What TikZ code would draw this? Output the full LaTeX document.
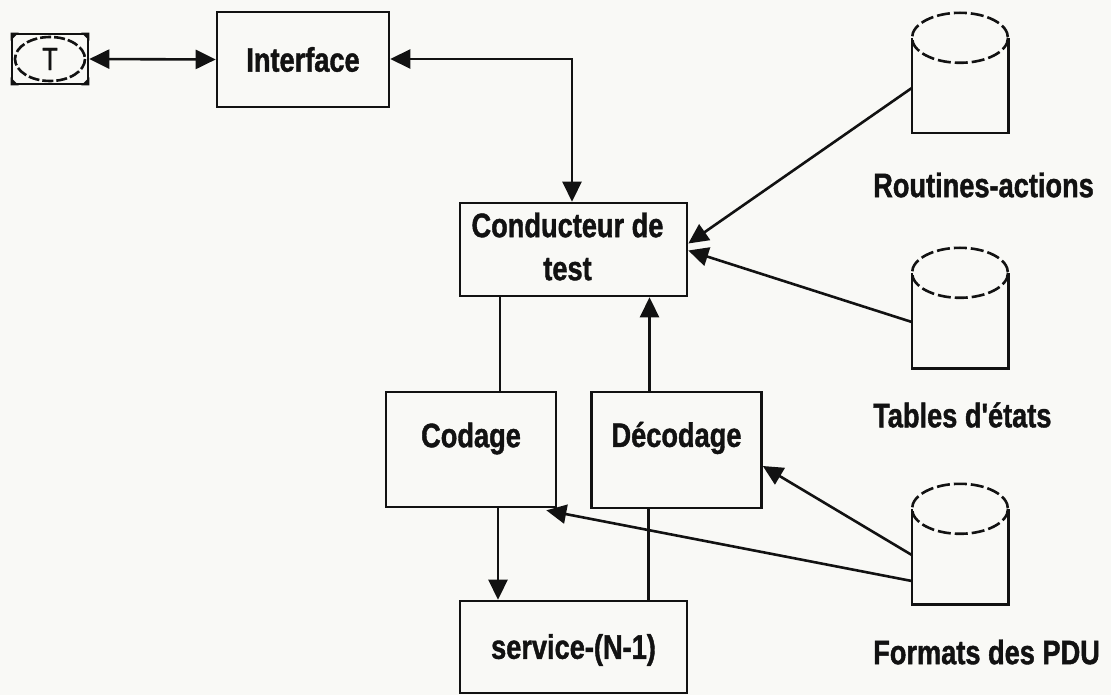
\documentclass[tikz,border=0pt]{standalone}
\usepackage{fontspec}
\setmainfont{Liberation Sans}
\newfontfamily\lblfont{Liberation Sans}[FakeStretch=0.8, FakeBold=1.2]
\usetikzlibrary{arrows.meta,calc}

\definecolor{paper}{RGB}{249,249,246}
\definecolor{ink}{RGB}{18,18,18}

% database store: flat-bottomed cylinder, #1 name, (#2,#3) top centre
\newcommand\dbstore[3]{%
  \node[cylbox] (#1) at (#2,{#3+60}) {};
  \draw[ink,line width=2.6pt] ([yshift=-25pt]#1.north west) -- (#1.south west)
      -- (#1.south east) -- ([yshift=-25pt]#1.north east);
  \draw[rim] ([yshift=-25pt]#1.north) ellipse [x radius=48, y radius=25];
}

\begin{document}
\begin{tikzpicture}[x=1pt,y=-1pt,
  lbl/.style={font=\lblfont\bfseries\fontsize{34}{43}\selectfont, text=ink, inner sep=0pt},
  box/.style={draw=ink, line width=2.6pt, inner sep=0pt},
  cylbox/.style={draw=none, minimum width=96pt, minimum height=120pt, inner sep=0pt},
  rim/.style={draw=ink, line width=2.6pt, dash pattern=on 13pt off 4pt},
  link/.style={draw=ink, line width=2.6pt},
  tip/.style={-{Triangle[length=20pt,width=19pt]}},
  twotip/.style={{Triangle[length=20pt,width=19pt]}-{Triangle[length=20pt,width=19pt]}}
]
\fill[paper] (0,0) rectangle (1111,695);
\useasboundingbox (0,0) rectangle (1111,695);

% terminal symbol
\node[box, minimum width=76pt, minimum height=50pt] (term) at (50,59) {};
\draw[rim, dash pattern=on 11pt off 3pt] (term.center) ellipse [x radius=35, y radius=22];
\foreach \c/\dx/\dy in {north west/1/1, north east/-1/1, south west/1/-1, south east/-1/-1}
  \fill[ink] (term.\c) -- ++(8*\dx,0) -- ++(-8*\dx,8*\dy) -- cycle;
\node[font=\lblfont\fontsize{32}{36}\selectfont, text=ink, inner sep=0pt] (tl) at (term.center) {T};

% boxes
\node[box, minimum width=172pt, minimum height=95pt] (iface) at (303,59.5) {};
\node[lbl] (ifacel) at (iface.center) {Interface};

\node[box, minimum width=227pt, minimum height=93pt] (cond) at (573.5,249.5) {};
\node[lbl, align=center] (condl) at ([xshift=-6pt,yshift=3pt]cond.center) {Conducteur de\\test};

\node[box, minimum width=170pt, minimum height=115pt] (cod) at (471,449.5) {};
\node[lbl] (codl) at ([yshift=11pt]cod.center) {Codage};

\node[box, minimum width=170pt, minimum height=116pt] (dec) at (676.5,450) {};
\node[lbl] (decl) at ([yshift=12pt]dec.center) {Décodage};

\node[box, minimum width=227pt, minimum height=92pt] (serv) at (573.5,647) {};
\node[lbl] (servl) at ([yshift=-3pt]serv.center) {service-(N-1)};

% stores
\dbstore{rout}{960}{13}
\dbstore{tabl}{960}{248}
\dbstore{form}{960}{484}
\node[lbl, anchor=west] (routl) at (873,185) {Routines-actions};
\node[lbl, anchor=west] (tabll) at (873,415) {Tables d'états};
\node[lbl, anchor=west] (forml) at (873,652) {Formats des PDU};

% connectors
\draw[link, twotip] (term.east) -- (iface.west);
\draw[link, twotip] ([yshift=0.5pt]iface.east) -| ([xshift=-1.5pt]cond.north);
\draw[link, tip] ([yshift=-15pt]rout.west) -- ([yshift=6pt]cond.east);
\draw[link, tip] ([yshift=-14pt]tabl.west) -- ([yshift=-1pt]cond.east);
\draw[link] ([xshift=29pt]cod.north) -- ([xshift=29pt]cod.north |- cond.south);
\draw[link, tip] ([xshift=-27pt]dec.north) -- ([xshift=-27pt]dec.north |- cond.south);
\draw[link, tip] ([xshift=27pt]cod.south) -- ([xshift=27pt]cod.south |- serv.north);
\draw[link] ([xshift=-28pt]dec.south) -- ([xshift=-28pt]dec.south |- serv.north);
\draw[link, tip] ([yshift=-11pt]form.west) -- ([yshift=-16pt]dec.east);
\draw[link, tip] ([yshift=-37pt]form.west) -- ([xshift=-11pt,yshift=-2pt]cod.south east);
\end{tikzpicture}
\end{document}
